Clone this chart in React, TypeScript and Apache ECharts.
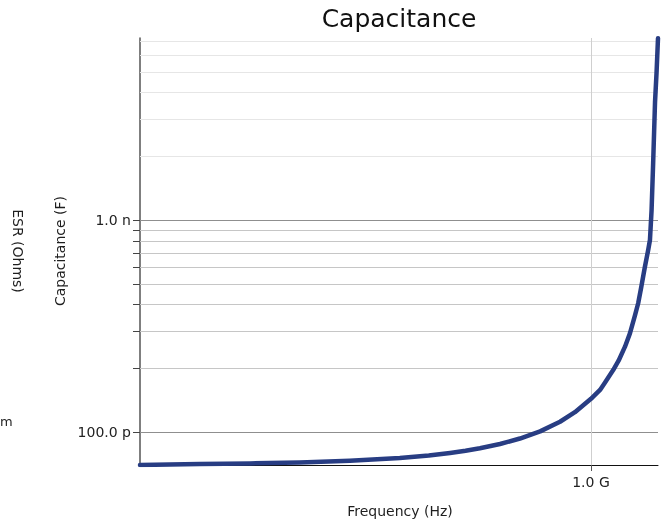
import React, { useEffect, useRef } from "react";
import * as echarts from "echarts";

// Frequency (Hz) and capacitance (pF)
const freqHz = [
  1.02e8, 1.38e8, 1.78e8, 2.29e8, 2.95e8, 3.8e8, 4.4e8, 4.9e8, 5.3e8, 5.7e8,
  6.31e8, 6.98e8, 7.73e8, 8.55e8, 9.22e8, 1.0e9, 1.047e9, 1.073e9, 1.119e9,
  1.15e9, 1.188e9, 1.218e9, 1.25e9, 1.27e9, 1.29e9, 1.314e9, 1.336e9, 1.348e9,
  1.359e9, 1.37e9, 1.383e9, 1.394e9, 1.404e9,
];
const capPF = [
  69.9, 70.6, 71.1, 71.8, 73.2, 75.5, 77.5, 79.7, 81.6, 83.9, 87.8, 93.2, 100.7,
  111.8, 124, 143.5, 158, 170.7, 196, 217, 252.7, 292, 356, 405, 483, 602, 722,
  805, 1110, 1860, 3600, 5000, 7200,
];

// axis extents
const xRange = [1.02e8, 1.404e9];
const yRange = [6.99e-11, 7.22e-9];

// tick labels
const xTickLabels = [{ value: 1e9, label: "1.0 G" }];
const yTickLabels = [
  { value: 1e-10, label: "100.0 p" },
  { value: 1e-9, label: "1.0 n" },
];

// grid lines
const yMajorGrid = [1e-10, 1e-9];
const yMidGrid = [2e-10, 3e-10, 4e-10, 5e-10, 6e-10, 7e-10, 8e-10, 9e-10];
const yUpperGrid = [2e-9, 3e-9, 4e-9, 5e-9, 6e-9, 7e-9];
const xMajorGrid = [1e9];

const FONT = '"DejaVu Sans", "Noto Sans", sans-serif';

export default function App() {
  const ref = useRef<HTMLDivElement>(null);

  useEffect(() => {
    if (!ref.current) return;
    const chart = echarts.init(ref.current, null, { renderer: "svg" });

    const lineData = freqHz.map((f, i) => [f, capPF[i] * 1e-12]);

    // kind: 0 major y, 1 mid y (with tick), 2 upper y (no tick), 3 vertical x
    const gridData: number[][] = [];
    yMajorGrid.forEach((v) => gridData.push([xRange[0], v, 0]));
    yMidGrid.forEach((v) => gridData.push([xRange[0], v, 1]));
    yUpperGrid.forEach((v) => gridData.push([xRange[0], v, 2]));
    xMajorGrid.forEach((v) => gridData.push([v, yRange[0], 3]));

    const matchLabel = (
      list: { value: number; label: string }[],
      v: number
    ): string => {
      const lv = Math.log10(v);
      for (const t of list) {
        if (Math.abs(Math.log10(t.value) - lv) < 1e-6) return t.label;
      }
      return "";
    };

    const txt = (
      text: string,
      x: number,
      y: number,
      size: number,
      rotation = 0,
      align = "center",
      fill = "#1e1e1e"
    ) => ({
      type: "text",
      x,
      y,
      rotation,
      style: {
        text,
        font: `${size}px ${FONT}`,
        fill,
        align,
        verticalAlign: "middle",
        textAlign: align,
        textVerticalAlign: "middle",
      },
    });

    chart.setOption({
      animation: false,
      grid: { left: 140, right: 3, top: 38, bottom: 61 },
      xAxis: {
        type: "log",
        logBase: 10,
        min: xRange[0],
        max: xRange[1],
        axisLine: { show: true, lineStyle: { color: "#111", width: 1 } },
        axisTick: { show: false },
        splitLine: { show: false },
        minorTick: { show: false },
        axisLabel: {
          show: true,
          showMinLabel: false,
          showMaxLabel: false,
          margin: 10,
          fontSize: 14,
          fontFamily: FONT,
          color: "#222",
          formatter: (v: number) => matchLabel(xTickLabels, v),
        },
      },
      yAxis: {
        type: "log",
        logBase: 10,
        min: yRange[0],
        max: yRange[1],
        axisLine: { show: true, lineStyle: { color: "#555", width: 1.5 } },
        axisTick: { show: false },
        splitLine: { show: false },
        axisLabel: {
          show: true,
          showMinLabel: false,
          showMaxLabel: false,
          margin: 9,
          fontSize: 14,
          fontFamily: FONT,
          color: "#222",
          formatter: (v: number) => matchLabel(yTickLabels, v),
        },
      },
      graphic: [
        txt("Capacitance", 399, 18, 25, 0, "center", "#111"),
        txt("Frequency (Hz)", 400, 511, 14),
        txt("Capacitance (F)", 60, 251, 14, Math.PI / 2),
        txt("ESR (Ohms)", 18, 251, 14, -Math.PI / 2),
        txt("m", 0, 421, 13, 0, "left"),
      ],
      series: [
        {
          type: "custom",
          name: "grid",
          silent: true,
          clip: false,
          z: 1,
          encode: { x: 0, y: 1 },
          data: gridData,
          renderItem: (params: any, api: any) => {
            const cs = params.coordSys;
            const kind = api.value(2);
            const p = api.coord([api.value(0), api.value(1)]);
            const children: any[] = [];
            if (kind === 3) {
              const x = Math.round(p[0]) + 0.5;
              children.push({
                type: "line",
                shape: { x1: x, y1: cs.y, x2: x, y2: cs.y + cs.height },
                style: { stroke: "#cfcfcf", lineWidth: 1 },
              });
              children.push({
                type: "line",
                shape: { x1: x, y1: cs.y + cs.height, x2: x, y2: cs.y + cs.height + 6 },
                style: { stroke: "#555", lineWidth: 1 },
              });
            } else {
              const y = Math.round(p[1]) + 0.5;
              const color = kind === 0 ? "#8f8f8f" : kind === 1 ? "#c6c6c6" : "#e6e6e6";
              children.push({
                type: "line",
                shape: { x1: cs.x, y1: y, x2: cs.x + cs.width, y2: y },
                style: { stroke: color, lineWidth: 1 },
              });
              if (kind !== 2) {
                children.push({
                  type: "line",
                  shape: { x1: cs.x - 7, y1: y, x2: cs.x, y2: y },
                  style: { stroke: "#444", lineWidth: 1 },
                });
              }
            }
            return { type: "group", children };
          },
        },
        {
          type: "line",
          name: "Capacitance",
          data: lineData,
          showSymbol: false,
          smooth: false,
          z: 3,
          clip: true,
          lineStyle: { color: "#283d83", width: 4.5, join: "round", cap: "round" },
          itemStyle: { color: "#283d83" },
        },
      ],
    });

    return () => chart.dispose();
  }, []);

  return (
    <div
      ref={ref}
      style={{ position: "fixed", left: 0, top: 0, width: 661, height: 526 }}
    />
  );
}
